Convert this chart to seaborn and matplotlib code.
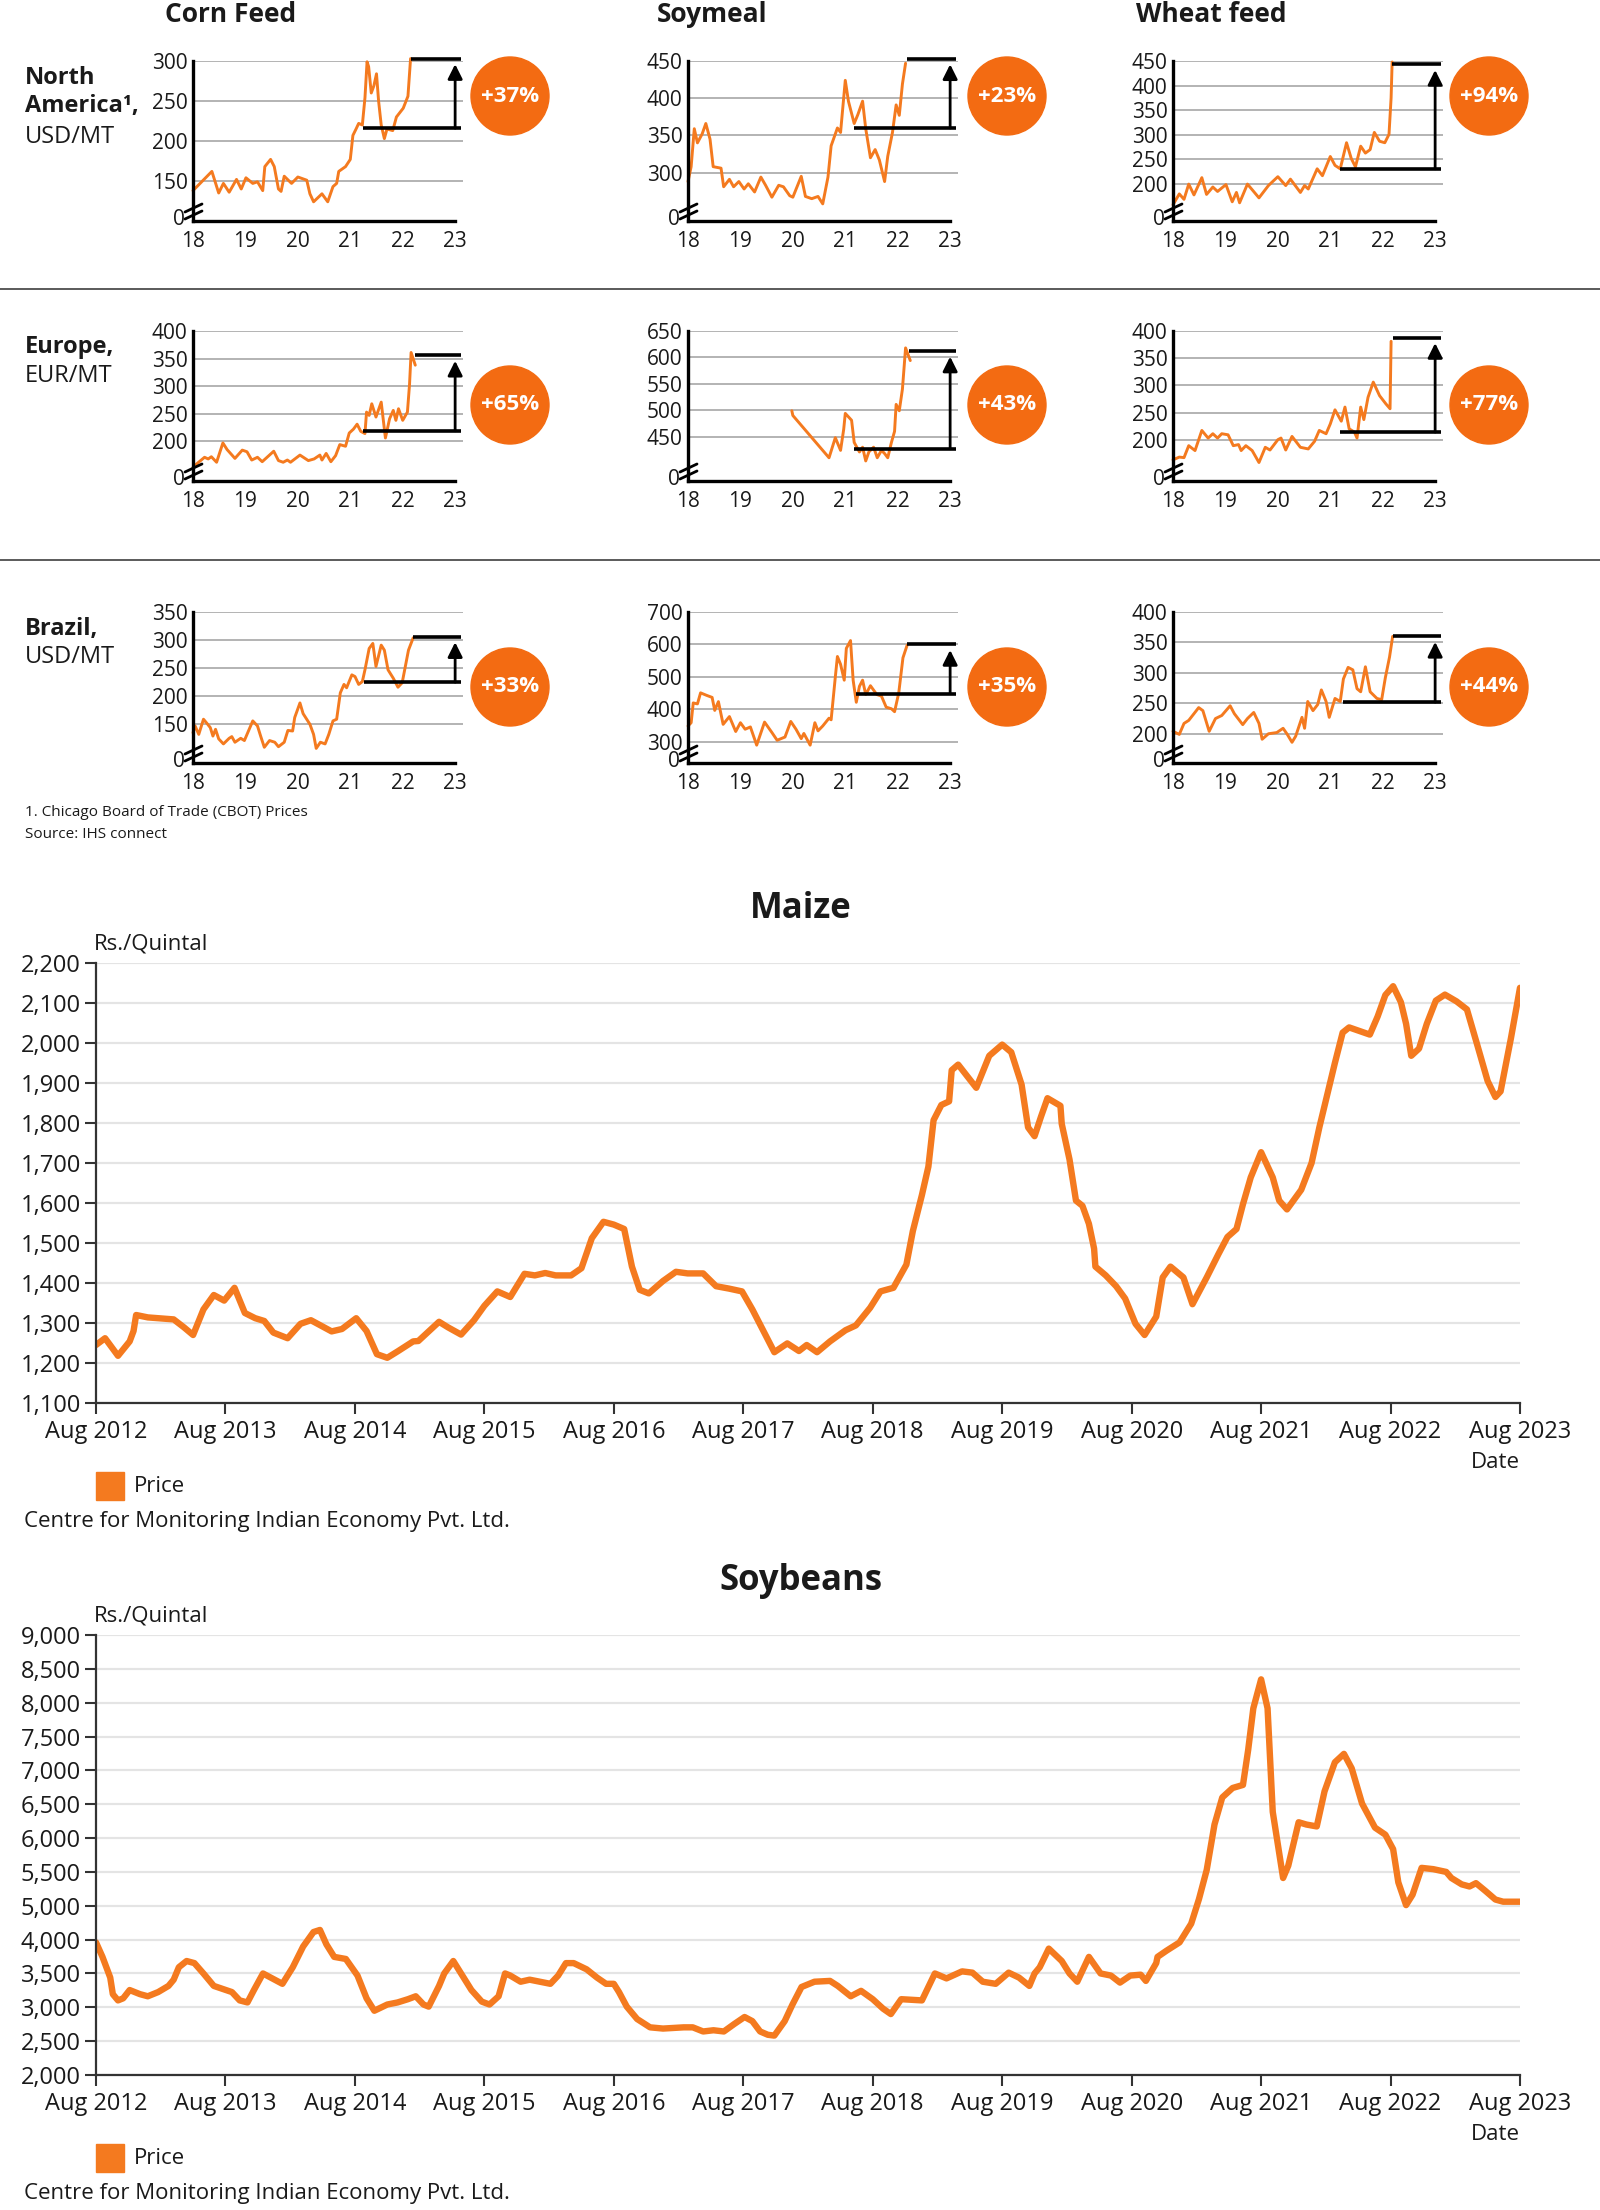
import numpy as np
import pandas as pd
import matplotlib
matplotlib.use("Agg")
import matplotlib.pyplot as plt
import matplotlib.transforms as mtransforms
import seaborn as sns
from matplotlib.patches import Ellipse, Rectangle
from matplotlib.lines import Line2D

# ---------------- small panels (x = year, 18 = 2018) ----------------
na_corn_x = [18.0, 18.36, 18.49, 18.58, 18.69, 18.83, 18.92, 19.01, 19.14, 19.23, 19.33, 19.37, 19.48, 19.55, 19.63,
             19.68, 19.74, 19.88, 20.0, 20.17, 20.23, 20.30, 20.46, 20.57, 20.67, 20.74, 20.78, 20.91, 21.0, 21.05,
             21.11, 21.16, 21.23, 21.28, 21.32, 21.35, 21.40, 21.45, 21.50, 21.54, 21.59, 21.65, 21.70, 21.81, 21.88,
             22.01, 22.10, 22.15]
na_corn_y = [138, 162, 135, 147, 136, 152, 140, 154, 147, 149, 138, 168, 177, 168, 140, 137, 156, 147, 155, 151, 134,
             124, 134, 124, 143, 147, 162, 168, 177, 207, 215, 222, 220, 254, 299, 293, 260, 269, 284, 250, 220, 203,
             215, 213, 230, 241, 256, 303]

na_soy_x = [18.0, 18.06, 18.12, 18.18, 18.27, 18.34, 18.42, 18.48, 18.63, 18.68, 18.79, 18.87, 18.97, 19.07, 19.15,
            19.27, 19.39, 19.48, 19.60, 19.73, 19.82, 19.94, 20.0, 20.16, 20.24, 20.36, 20.48, 20.57, 20.67, 20.73,
            20.85, 20.91, 21.0, 21.06, 21.17, 21.24, 21.33, 21.39, 21.48, 21.57, 21.65, 21.75, 21.81, 21.90, 21.97,
            22.03, 22.09, 22.15]
na_soy_y = [288, 308, 359, 340, 352, 366, 345, 308, 306, 281, 291, 281, 288, 278, 285, 274, 294, 283, 267, 283, 281,
            269, 267, 295, 268, 265, 268, 258, 294, 336, 360, 354, 424, 396, 366, 378, 396, 359, 320, 331, 317, 288,
            322, 354, 391, 377, 419, 447]

na_wheat_x = [18.0, 18.12, 18.21, 18.30, 18.40, 18.55, 18.64, 18.76, 18.85, 19.01, 19.13, 19.21, 19.27, 19.42, 19.64,
              19.82, 20.0, 20.15, 20.24, 20.43, 20.51, 20.58, 20.75, 20.85, 21.0, 21.09, 21.19, 21.31, 21.40, 21.48,
              21.58, 21.67, 21.76, 21.84, 21.94, 22.04, 22.12, 22.16, 22.18]
na_wheat_y = [158, 180, 169, 200, 178, 213, 179, 194, 185, 199, 164, 183, 162, 200, 172, 197, 215, 197, 210, 183, 197,
              190, 231, 217, 256, 238, 231, 284, 252, 235, 277, 263, 270, 305, 287, 284, 301, 375, 448]

eu_corn_x = [18.0, 18.07, 18.22, 18.29, 18.35, 18.45, 18.57, 18.65, 18.80, 18.94, 19.03, 19.12, 19.23, 19.32, 19.54,
             19.63, 19.72, 19.80, 19.86, 20.04, 20.20, 20.31, 20.42, 20.46, 20.54, 20.63, 20.72, 20.80, 20.91, 20.98,
             21.06, 21.13, 21.20, 21.28, 21.31, 21.36, 21.41, 21.49, 21.59, 21.67, 21.75, 21.82, 21.87, 21.92, 22.0,
             22.09, 22.13, 22.16, 22.24]
eu_corn_y = [153, 159, 171, 168, 172, 162, 197, 185, 169, 184, 181, 166, 171, 163, 182, 165, 162, 166, 162, 175, 165,
             168, 175, 166, 178, 163, 174, 194, 191, 215, 222, 231, 218, 214, 253, 247, 268, 244, 271, 206, 241, 256,
             238, 259, 238, 253, 303, 361, 338]

eu_soy_x = [19.98, 20.0, 20.69, 20.81, 20.91, 20.97, 21.0, 21.12, 21.17, 21.27, 21.33, 21.39, 21.45, 21.54, 21.61,
            21.69, 21.75, 21.81, 21.88, 21.94, 21.97, 22.03, 22.09, 22.15, 22.24]
eu_soy_y = [499, 490, 410, 448, 424, 464, 494, 481, 439, 421, 430, 404, 421, 430, 410, 424, 418, 410, 439, 460, 511,
            499, 540, 618, 594]

eu_wheat_x = [18.0, 18.12, 18.21, 18.30, 18.42, 18.55, 18.67, 18.76, 18.85, 18.93, 19.05, 19.15, 19.25, 19.30, 19.39,
              19.51, 19.64, 19.76, 19.85, 20.0, 20.06, 20.15, 20.27, 20.43, 20.58, 20.70, 20.79, 20.92, 21.0, 21.09,
              21.21, 21.28, 21.36, 21.46, 21.51, 21.58, 21.64, 21.72, 21.82, 21.94, 22.06, 22.14, 22.16]
eu_wheat_y = [163, 168, 167, 189, 180, 217, 203, 211, 203, 211, 209, 189, 191, 180, 189, 180, 158, 186, 181, 200, 203,
              181, 206, 186, 183, 197, 217, 211, 229, 255, 234, 260, 220, 214, 203, 260, 237, 278, 306, 281, 266, 257,
              381]

br_corn_x = [18.0, 18.04, 18.11, 18.20, 18.28, 18.33, 18.38, 18.43, 18.49, 18.58, 18.69, 18.74, 18.80, 18.91, 18.98,
             19.14, 19.23, 19.29, 19.36, 19.46, 19.56, 19.63, 19.74, 19.81, 19.90, 19.94, 20.04, 20.10, 20.23, 20.30,
             20.35, 20.43, 20.52, 20.59, 20.67, 20.74, 20.81, 20.88, 20.93, 21.03, 21.09, 21.16, 21.23, 21.28, 21.36,
             21.43, 21.49, 21.59, 21.65, 21.72, 21.82, 21.91, 21.99, 22.11, 22.20]
br_corn_y = [135, 147, 132, 159, 150, 144, 129, 141, 124, 115, 125, 128, 118, 125, 121, 156, 147, 129, 109, 121, 118,
             110, 118, 139, 138, 162, 188, 169, 150, 132, 107, 118, 115, 132, 156, 159, 206, 221, 215, 238, 235, 221,
             226, 247, 285, 294, 253, 291, 282, 247, 232, 216, 224, 282, 304]

br_soy_x = [18.0, 18.06, 18.10, 18.18, 18.24, 18.36, 18.46, 18.51, 18.58, 18.67, 18.79, 18.91, 19.0, 19.09, 19.19,
            19.31, 19.46, 19.60, 19.70, 19.85, 19.96, 20.06, 20.16, 20.21, 20.33, 20.42, 20.48, 20.57, 20.69, 20.73,
            20.81, 20.85, 20.91, 20.98, 21.02, 21.10, 21.15, 21.21, 21.27, 21.33, 21.39, 21.48, 21.60, 21.69, 21.78,
            21.88, 21.94, 22.02, 22.10, 22.18]
br_soy_y = [349, 359, 420, 417, 451, 443, 437, 397, 424, 354, 378, 332, 359, 339, 346, 290, 361, 329, 305, 315, 363,
            339, 310, 326, 290, 359, 334, 349, 373, 368, 500, 563, 539, 490, 588, 612, 490, 422, 471, 490, 446, 473,
            446, 441, 407, 402, 393, 451, 559, 598]

br_wheat_x = [18.0, 18.12, 18.21, 18.30, 18.40, 18.49, 18.57, 18.69, 18.81, 18.93, 19.09, 19.17, 19.33, 19.42, 19.54,
              19.64, 19.70, 19.82, 19.98, 20.10, 20.18, 20.27, 20.34, 20.46, 20.51, 20.57, 20.67, 20.76, 20.83, 20.92,
              20.98, 21.09, 21.19, 21.25, 21.34, 21.43, 21.51, 21.58, 21.67, 21.76, 21.89, 21.98, 22.05, 22.13, 22.19]
br_wheat_y = [204, 199, 217, 222, 233, 243, 238, 204, 225, 230, 246, 233, 215, 225, 235, 217, 191, 200, 202, 209, 199,
              186, 196, 227, 209, 253, 238, 248, 272, 253, 227, 258, 253, 290, 309, 305, 274, 269, 310, 269, 258, 256,
              292, 326, 360]

year_ticks = [18, 19, 20, 21, 22, 23]
year_labels = ["18", "19", "20", "21", "22", "23"]

# gridlines and the broken-axis floor (labelled "0")
grids = [[150, 200, 250, 300], [300, 350, 400, 450], [200, 250, 300, 350, 400, 450],
         [200, 250, 300, 350, 400], [450, 500, 550, 600, 650], [200, 250, 300, 350, 400],
         [150, 200, 250, 300, 350], [300, 400, 500, 600, 700], [200, 250, 300, 350, 400]]
floors = [100, 235, 125, 128, 366, 124, 81, 235, 152]

# base / latest levels of the bracket and the change badges
base_level = [216, 360, 231, 219, 427, 214, 225, 449, 252]
base_from = [21.25, 21.17, 21.19, 21.25, 21.17, 21.19, 21.26, 21.20, 21.25]
latest_level = [303, 453, 443, 356, 612, 388, 306, 600, 360]
latest_from = [22.15, 22.17, 22.18, 22.24, 22.21, 22.19, 22.20, 22.18, 22.19]
changes = ["+37%", "+23%", "+94%", "+65%", "+43%", "+77%", "+33%", "+35%", "+44%"]

col_titles = ["Corn Feed", "Soymeal", "Wheat feed"]

# ---------------- India charts (x = years since Aug 2012) ----------------
maize_t = [0, 0.07, 0.17, 0.26, 0.29, 0.31, 0.40, 0.60, 0.68, 0.75, 0.83, 0.91, 0.99, 1.07, 1.15, 1.23, 1.30, 1.37,
           1.48, 1.58, 1.66, 1.82, 1.90, 2.01, 2.09, 2.17, 2.25, 2.33, 2.45, 2.49, 2.65, 2.72, 2.82, 2.92, 3.0, 3.10,
           3.20, 3.31, 3.39, 3.47, 3.55, 3.67, 3.75, 3.83, 3.92, 4.0, 4.08, 4.14, 4.20, 4.27, 4.38, 4.48, 4.57, 4.69,
           4.79, 4.89, 4.99, 5.07, 5.17, 5.24, 5.34, 5.43, 5.49, 5.57, 5.67, 5.79, 5.87, 5.98, 6.06, 6.16, 6.26, 6.31,
           6.38, 6.43, 6.47, 6.53, 6.59, 6.61, 6.66, 6.80, 6.90, 7.0, 7.07, 7.15, 7.20, 7.25, 7.30, 7.35, 7.45, 7.46,
           7.52, 7.57, 7.62, 7.67, 7.71, 7.72, 7.80, 7.88, 7.95, 8.03, 8.10, 8.19, 8.24, 8.30, 8.40, 8.47, 8.58, 8.67,
           8.74, 8.81, 8.86, 8.92, 9.0, 9.09, 9.14, 9.20, 9.31, 9.39, 9.45, 9.51, 9.57, 9.63, 9.68, 9.76, 9.84, 9.90,
           9.96, 10.02, 10.08, 10.12, 10.16, 10.22, 10.28, 10.35, 10.42, 10.51, 10.59, 10.67, 10.75, 10.81, 10.85,
           10.93, 11.0]
maize_price = [1245, 1262, 1218, 1254, 1280, 1320, 1314, 1309, 1289, 1270, 1334, 1370, 1356, 1388, 1325, 1312, 1305,
               1276, 1262, 1298, 1307, 1279, 1285, 1312, 1280, 1222, 1213, 1229, 1254, 1255, 1303, 1289, 1271, 1307,
               1343, 1379, 1365, 1423, 1419, 1425, 1419, 1419, 1437, 1512, 1553, 1546, 1535, 1441, 1383, 1374, 1405,
               1428, 1424, 1424, 1392, 1386, 1379, 1334, 1271, 1227, 1249, 1230, 1245, 1227, 1254, 1282, 1294, 1338,
               1379, 1388, 1446, 1530, 1620, 1691, 1807, 1845, 1854, 1932, 1946, 1888, 1968, 1996, 1977, 1896, 1789,
               1767, 1816, 1862, 1843, 1798, 1709, 1606, 1593, 1548, 1486, 1441, 1419, 1392, 1361, 1298, 1270, 1316,
               1414, 1441, 1414, 1347, 1414, 1472, 1515, 1535, 1597, 1664, 1727, 1664, 1606, 1584, 1633, 1700, 1789,
               1870, 1950, 2026, 2039, 2030, 2021, 2066, 2120, 2142, 2102, 2048, 1968, 1986, 2048, 2106, 2121, 2104,
               2084, 1995, 1905, 1865, 1879, 2012, 2138]
maize_ticks = [1100, 1200, 1300, 1400, 1500, 1600, 1700, 1800, 1900, 2000, 2100, 2200]
maize_tick_labels = ["1,100", "1,200", "1,300", "1,400", "1,500", "1,600", "1,700", "1,800", "1,900", "2,000",
                     "2,100", "2,200"]

soy_t = [0, 0.05, 0.11, 0.13, 0.17, 0.21, 0.26, 0.34, 0.40, 0.48, 0.56, 0.60, 0.64, 0.70, 0.76, 0.83, 0.91, 1.05,
         1.11, 1.17, 1.22, 1.29, 1.35, 1.44, 1.52, 1.60, 1.68, 1.73, 1.78, 1.84, 1.93, 2.02, 2.09, 2.15, 2.25, 2.33,
         2.41, 2.47, 2.53, 2.57, 2.65, 2.69, 2.76, 2.82, 2.90, 2.98, 3.04, 3.11, 3.16, 3.20, 3.28, 3.35, 3.43, 3.51,
         3.57, 3.63, 3.69, 3.79, 3.87, 3.94, 4.00, 4.04, 4.10, 4.18, 4.28, 4.38, 4.54, 4.61, 4.69, 4.77, 4.85, 4.93,
         5.01, 5.07, 5.13, 5.19, 5.24, 5.32, 5.38, 5.45, 5.55, 5.67, 5.73, 5.83, 5.91, 6.00, 6.08, 6.14, 6.22, 6.38,
         6.48, 6.57, 6.69, 6.77, 6.85, 6.95, 7.05, 7.13, 7.21, 7.25, 7.29, 7.36, 7.46, 7.52, 7.58, 7.67, 7.76, 7.84,
         7.91, 7.99, 8.07, 8.11, 8.19, 8.20, 8.27, 8.37, 8.46, 8.52, 8.58, 8.64, 8.70, 8.78, 8.86, 8.90, 8.94, 9.00,
         9.05, 9.09, 9.14, 9.17, 9.21, 9.29, 9.35, 9.43, 9.49, 9.57, 9.64, 9.70, 9.78, 9.88, 9.96, 10.02, 10.06,
         10.12, 10.17, 10.24, 10.33, 10.43, 10.47, 10.55, 10.61, 10.66, 10.73, 10.81, 10.87, 11.0]
soy_price = [4459, 4245, 3939, 3694, 3602, 3633, 3755, 3694, 3663, 3725, 3816, 3908, 4092, 4184, 4153, 4000, 3816,
             3725, 3602, 3572, 3755, 4000, 3939, 3847, 4092, 4398, 4612, 4643, 4429, 4245, 4214, 3969, 3633, 3449,
             3541, 3572, 3620, 3663, 3541, 3510, 3816, 4000, 4184, 4000, 3755, 3584, 3541, 3663, 4000, 3969, 3878,
             3908, 3878, 3847, 3969, 4153, 4153, 4061, 3939, 3847, 3847, 3725, 3510, 3327, 3204, 3186, 3204, 3204,
             3143, 3161, 3143, 3253, 3357, 3296, 3143, 3094, 3082, 3296, 3541, 3800, 3878, 3890, 3816, 3663, 3743,
             3620, 3480, 3400, 3620, 3602, 4000, 3927, 4031, 4012, 3878, 3847, 4012, 3939, 3816, 4000, 4092, 4367,
             4184, 4000, 3878, 4245, 4000, 3969, 3865, 3969, 3982, 3890, 4153, 4245, 4337, 4459, 4735, 5098, 5530,
             6200, 6600, 6740, 6785, 7300, 7917, 8345, 7917, 6388, 5775, 5410, 5592, 6234, 6200, 6172, 6690, 7120,
             7244, 7030, 6510, 6154, 6050, 5836, 5346, 5010, 5163, 5560, 5541, 5500, 5410, 5316, 5285, 5334, 5224,
             5092, 5060, 5060]
soy_ticks = [2500, 3000, 3500, 4000, 4500, 5000, 5500, 6000, 6500, 7000, 7500, 8000, 8500, 9000]
soy_tick_labels = ["2,000", "2,500", "3,000", "3,500", "4,000", "5,000", "5,500", "6,000", "6,500", "7,000",
                   "7,500", "8,000", "8,500", "9,000"]

month_ticks = list(range(12))
month_labels = ["Aug 2012", "Aug 2013", "Aug 2014", "Aug 2015", "Aug 2016", "Aug 2017", "Aug 2018", "Aug 2019",
                "Aug 2020", "Aug 2021", "Aug 2022", "Aug 2023"]

ORANGE = "#F47A1F"
BADGE = "#F36B12"
INK = "#1a1a1a"

sns.set_theme(style="white")
plt.rcParams["font.family"] = ["Open Sans", "DejaVu Sans"]
NARROW = ["Liberation Sans Narrow", "Open Sans", "DejaVu Sans"]

W, H = 1600, 2210
fig = plt.figure(figsize=(16, 22.1), dpi=100)
fig.patch.set_facecolor("white")


def fx(px):
    return px / W


def fy(py):
    return 1 - py / H


def rect(left, top, width, height):
    return [left / W, 1 - (top + height) / H, width / W, height / H]


def fig_line(x0, y0, x1, y1, **kw):
    fig.add_artist(Line2D([fx(x0), fx(x1)], [fy(y0), fy(y1)], transform=fig.transFigure, **kw))


COL_LEFT = [193, 688, 1173]
ROW_TOP = [61, 331, 612]
ROW_BOTTOM = [221, 481, 763]
PANEL_W = 270
BADGE_X = [510, 1007, 1489]
BADGE_Y = [96, 405, 687]

panels = [(na_corn_x, na_corn_y), (na_soy_x, na_soy_y), (na_wheat_x, na_wheat_y),
          (eu_corn_x, eu_corn_y), (eu_soy_x, eu_soy_y), (eu_wheat_x, eu_wheat_y),
          (br_corn_x, br_corn_y), (br_soy_x, br_soy_y), (br_wheat_x, br_wheat_y)]

zero_shift = mtransforms.ScaledTranslation(-2 / 72, 3 / 72, fig.dpi_scale_trans)

for i, (xs, ys) in enumerate(panels):
    row, col = divmod(i, 3)
    left, top, bottom = COL_LEFT[col], ROW_TOP[row], ROW_BOTTOM[row]
    ax = fig.add_axes(rect(left, top, PANEL_W, bottom - top))
    ax.set_facecolor("none")
    sns.lineplot(x=xs, y=ys, ax=ax, color=ORANGE, linewidth=2.1, estimator=None, sort=False, clip_on=False)
    grid, floor = grids[i], floors[i]
    ax.set_xlim(18, 23.15)
    ax.set_ylim(floor, grid[-1])
    ax.hlines(grid, 18, 23.15, color="#b3b3b3", lw=1.4, zorder=0)
    ax.set_yticks([floor] + grid, ["0"] + [str(g) for g in grid])
    ax.set_xticks(year_ticks, year_labels)
    ax.spines["top"].set_visible(False)
    ax.spines["right"].set_visible(False)
    for s in ["left", "bottom"]:
        ax.spines[s].set_linewidth(2.4)
        ax.spines[s].set_color("black")
    ax.spines["bottom"].set_bounds(18, 23)
    ax.tick_params(axis="x", direction="in", length=6, width=2, pad=7, labelsize=15, colors=INK)
    ax.tick_params(axis="y", length=0, pad=4, labelsize=15, colors=INK)
    for lab in ax.get_xticklabels() + ax.get_yticklabels():
        lab.set_family(NARROW)
    zero_lab = ax.get_yticklabels()[0]
    zero_lab.set_transform(zero_lab.get_transform() + zero_shift)
    ax.set_xlabel("")
    ax.set_ylabel("")

    # bracket + arrow
    ax.hlines([base_level[i]], base_from[i], 23.12, color="black", lw=2.6, clip_on=False)
    ax.hlines([latest_level[i]], latest_from[i], 23.12, color="black", lw=2.6, clip_on=False)
    ax.annotate("", xy=(23, latest_level[i]), xytext=(23, base_level[i]), annotation_clip=False,
                arrowprops=dict(arrowstyle="-|>", color="black", lw=2, mutation_scale=22, shrinkA=0, shrinkB=4))

    # broken axis marks
    for dy in (6, 13):
        fig_line(left - 8, bottom - dy + 4, left + 9, bottom - dy - 4, color="black", lw=2.0)

    # change badge
    cx, cy = BADGE_X[col], BADGE_Y[row]
    fig.add_artist(Ellipse((fx(cx), fy(cy)), 78 / W, 78 / H, transform=fig.transFigure, color=BADGE))
    fig.text(fx(cx), fy(cy), changes[i], color="white", fontsize=16, fontweight="bold", ha="center", va="center")

# column titles and row labels
for x, t in zip([165, 657, 1136], col_titles):
    fig.text(fx(x), fy(15), t, fontsize=19, fontweight="bold", ha="left", va="center", color=INK)

fig.text(fx(25), fy(78), "North", fontsize=17, fontweight="bold", va="center", color=INK)
fig.text(fx(25), fy(106), "America¹,", fontsize=17, fontweight="bold", va="center", color=INK)
fig.text(fx(25), fy(137), "USD/MT", fontsize=17, va="center", color=INK)
fig.text(fx(25), fy(347), "Europe,", fontsize=17, fontweight="bold", va="center", color=INK)
fig.text(fx(25), fy(376), "EUR/MT", fontsize=17, va="center", color=INK)
fig.text(fx(25), fy(629), "Brazil,", fontsize=17, fontweight="bold", va="center", color=INK)
fig.text(fx(25), fy(657), "USD/MT", fontsize=17, va="center", color=INK)

for yy in (289, 560):
    fig_line(0, yy, W, yy, color="#4d4d4d", lw=1.3)

fig.text(fx(25), fy(813), "1. Chicago Board of Trade (CBOT) Prices", fontsize=11, va="center", color=INK)
fig.text(fx(25), fy(835), "Source: IHS connect", fontsize=11, va="center", color=INK)


def india_panel(top, t, price, ticks, tick_labels, title):
    ax = fig.add_axes(rect(96, top, 1424, 440))
    sns.lineplot(x=t, y=price, ax=ax, color=ORANGE, linewidth=4.6, estimator=None, sort=False)
    ax.set_xlim(0, 11)
    ax.set_ylim(ticks[0], ticks[-1])
    ax.set_xticks(month_ticks, month_labels)
    ax.set_yticks(ticks, tick_labels)
    ax.grid(axis="y", color="#e4e4e4", lw=1.6)
    ax.grid(axis="x", visible=False)
    ax.set_axisbelow(True)
    ax.spines["top"].set_visible(False)
    ax.spines["right"].set_visible(False)
    for s in ["left", "bottom"]:
        ax.spines[s].set_linewidth(1.6)
        ax.spines[s].set_color("#333333")
    ax.tick_params(axis="both", direction="out", length=8, width=1.5, color="#333333", labelsize=17,
                   labelcolor=INK, left=True, bottom=True)
    ax.tick_params(axis="x", pad=4)
    ax.tick_params(axis="y", pad=3)
    ax.set_xlabel("")
    ax.set_ylabel("")
    fig.text(fx(801), fy(top - 54), title, fontsize=25, fontweight="bold", ha="center", va="center", color=INK)
    fig.text(fx(94), fy(top - 19), "Rs./Quintal", fontsize=16, ha="left", va="center", color=INK)
    fig.text(fx(1520), fy(top + 499), "Date", fontsize=16, ha="right", va="center", color=INK)
    fig.add_artist(Rectangle((fx(96), fy(top + 537)), 28 / W, 28 / H, transform=fig.transFigure,
                             color=ORANGE))
    fig.text(fx(134), fy(top + 523), "Price", fontsize=16, ha="left", va="center", color=INK)
    fig.text(fx(24), fy(top + 559), "Centre for Monitoring Indian Economy Pvt. Ltd.", fontsize=16,
             ha="left", va="center", color=INK)


india_panel(963, maize_t, maize_price, maize_ticks, maize_tick_labels, "Maize")
india_panel(1635, soy_t, soy_price, soy_ticks, soy_tick_labels, "Soybeans")

fig.savefig("out.png", dpi=100)
